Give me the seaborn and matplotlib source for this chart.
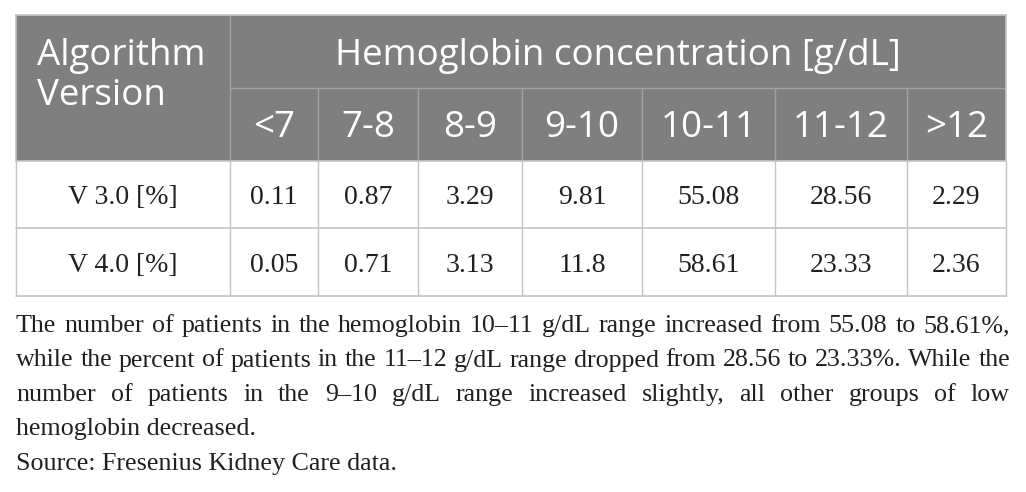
import matplotlib
matplotlib.use("Agg")
import matplotlib.pyplot as plt
from matplotlib.patches import Rectangle
import seaborn as sns

# table content
row_header = "Algorithm\nVersion"
group_header = "Hemoglobin concentration [g/dL]"
hb_ranges = ["<7", "7-8", "8-9", "9-10", "10-11", "11-12", ">12"]
versions = ["V 3.0 [%]", "V 4.0 [%]"]
v30 = [0.11, 0.87, 3.29, 9.81, 55.08, 28.56, 2.29]
v40 = [0.05, 0.71, 3.13, 11.8, 58.61, 23.33, 2.36]

caption_lines = [
    "The number of patients in the hemoglobin 10\u201311 g/dL range increased from 55.08 to 58.61%,",
    "while the percent of patients in the 11\u201312 g/dL range dropped from 28.56 to 23.33%. While the",
    "number of patients in the 9\u201310 g/dL range increased slightly, all other groups of low",
    "hemoglobin decreased.",
]
source = "Source: Fresenius Kidney Care data."

sns.set_theme(style="white")
plt.rcParams['font.family'] = ['Open Sans', 'DejaVu Sans']

# layout in pixels
col_x = [16, 230, 318, 418, 522, 642, 775, 907, 1006]
row_y = [15, 88, 161, 228, 296]
head_bg = '#7f7f7f'
head_line = '#a3a3a3'
grid = '#c4c4c4'
ink = '#231f20'
serif = ['Liberation Serif', 'DejaVu Serif']

fig = plt.figure(figsize=(10.26, 4.92), dpi=100)
ax = fig.add_axes([0, 0, 1, 1])
ax.set_xlim(0, 1026)
ax.set_ylim(492, 0)
ax.axis('off')

# header background
ax.add_patch(Rectangle((col_x[0], row_y[0]), col_x[-1] - col_x[0], row_y[2] - row_y[0],
                       facecolor=head_bg, edgecolor='none'))
# header separators
ax.plot([col_x[1], col_x[1]], [row_y[0], row_y[2]], color=head_line, lw=1)
ax.plot([col_x[1], col_x[-1]], [row_y[1], row_y[1]], color=head_line, lw=1)
for x in col_x[2:-1]:
    ax.plot([x, x], [row_y[1], row_y[2]], color=head_line, lw=1)

# body grid
for x in col_x:
    ax.plot([x, x], [row_y[2], row_y[-1]], color=grid, lw=1)
for y in row_y[2:]:
    ax.plot([col_x[0], col_x[-1]], [y, y], color=grid, lw=1.2)
ax.plot([col_x[0], col_x[-1]], [row_y[0], row_y[0]], color=grid, lw=1.2)
ax.plot([col_x[0], col_x[0]], [row_y[0], row_y[2]], color=grid, lw=1.2)
ax.plot([col_x[-1], col_x[-1]], [row_y[0], row_y[2]], color=grid, lw=1.2)

# header texts
hs = 26.5
ax.text(37, 65, row_header.split("\n")[0], color='white', fontsize=hs, va='baseline')
ax.text(37, 105, row_header.split("\n")[1], color='white', fontsize=hs, va='baseline')
ax.text((col_x[1] + col_x[-1]) / 2, 65, group_header, color='white', fontsize=hs,
        ha='center', va='baseline')
for i, lab in enumerate(hb_ranges):
    ax.text((col_x[i + 1] + col_x[i + 2]) / 2, 137, lab, color='white', fontsize=hs,
            ha='center', va='baseline')

# body values
for r, (name, vals) in enumerate(zip(versions, [v30, v40])):
    yb = row_y[r + 3] - 24
    ax.text((col_x[0] + col_x[1]) / 2, yb, name, fontsize=20, family=serif,
            color=ink, ha='center', va='baseline')
    for i, v in enumerate(vals):
        ax.text((col_x[i + 1] + col_x[i + 2]) / 2, yb, str(v), fontsize=20, family=serif,
                color=ink, ha='center', va='baseline')

# caption, justified like the journal layout
renderer = fig.canvas.get_renderer()
x0, x1 = 16, 1010

# pick a size so the tightest line (the second) just fills the width
probe = ax.text(0, 0, caption_lines[1], fontsize=18, family=serif)
cs = 18 * (x1 - x0) / probe.get_window_extent(renderer).width
probe.remove()


def justified(words, y):
    texts = [ax.text(0, y, w, fontsize=cs, family=serif, color=ink, va='baseline') for w in words]
    widths = [t.get_window_extent(renderer).width for t in texts]
    gap = (x1 - x0 - sum(widths)) / (len(words) - 1)
    x = x0
    for t, w in zip(texts, widths):
        t.set_x(x)
        x += w + gap


base = 332
for k, line in enumerate(caption_lines):
    y = base + 34.5 * k
    if k < 3:
        justified(line.split(" "), y)
    else:
        ax.text(x0, y, line, fontsize=cs, family=serif, color=ink, va='baseline')
ax.text(x0, base + 34.5 * 4, source, fontsize=cs, family=serif, color=ink, va='baseline')

fig.savefig('out.png', dpi=100)
